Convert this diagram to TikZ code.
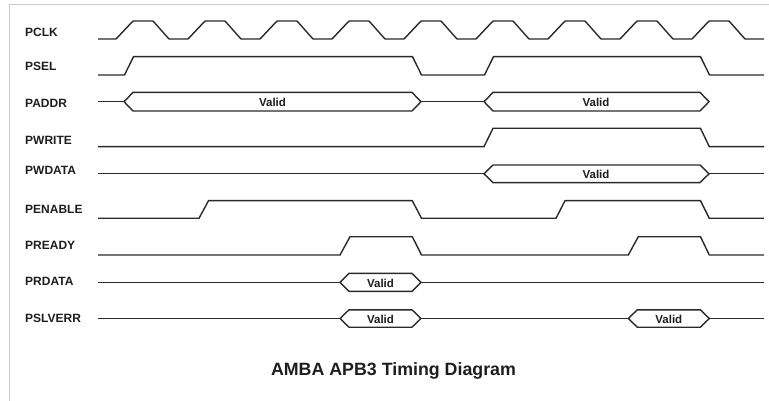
\documentclass[tikz,border=0pt]{standalone}
\usepackage{fontspec}
\setmainfont{Liberation Sans}
\definecolor{wave}{HTML}{2A2A2A}
\definecolor{frame}{HTML}{CCCCCC}
\definecolor{txt}{HTML}{1E1E1E}
\newcommand\mybus[4]{% x1, x2, ymid, half height
  (#1,#3) -- ({#1+9},{#3-#4}) -- ({#2-9},{#3-#4}) -- (#2,#3) -- ({#2-9},{#3+#4}) -- ({#1+9},{#3+#4}) -- cycle}
\begin{document}
\begin{tikzpicture}[x=1pt,y=-1pt,
  wv/.style={draw=wave,line width=1.4pt,line join=miter},
  sig/.style={anchor=west,inner sep=0pt,text height=8.6pt,text depth=0pt,font=\fontsize{12}{14}\selectfont\bfseries,text=txt},
  val/.style={inner sep=0pt,font=\fontsize{11.5}{13}\selectfont\bfseries,text=txt},
  ttl/.style={inner sep=0pt,font=\fontsize{17.8}{20}\selectfont\bfseries,text=txt}]
\useasboundingbox (0,0) rectangle (769,401);
\fill[white] (0,0) rectangle (769,401);
\draw[frame,line width=1pt] (9,401) -- (9,5) -- (769,5);

% labels
\node[sig] (lclk) at (25,32) {PCLK};
\node[sig] (lsel) at (25,66.7) {PSEL};
\node[sig] (laddr) at (25,103) {PADDR};
\node[sig] (lwrite) at (25,140.7) {PWRITE};
\node[sig] (lwdata) at (25,170.7) {PWDATA};
\node[sig] (lenable) at (25,209.3) {PENABLE};
\node[sig] (lready) at (25,245) {PREADY};
\node[sig] (lrdata) at (25,280.7) {PRDATA};
\node[sig] (lslverr) at (25,318.3) {PSLVERR};

% PCLK
\draw[wv] (98,39) foreach \k in {0,...,8} {
  -- ({116+72*\k},39) -- ({133+72*\k},21) -- ({153+72*\k},21) -- ({169+72*\k},39) } -- (764,39);

% PSEL
\draw[wv] (98,75) -- (124.5,75) -- (133.5,56.7) -- (412.5,56.7) -- (421.5,75)
  -- (484.5,75) -- (493.5,56.7) -- (700.5,56.7) -- (709.5,75) -- (764,75);

% PADDR
\draw[wv] (98,101.7) -- (124,101.7);
\draw[wv] \mybus{124}{421}{101.7}{9.3};
\draw[wv] (421,101.7) -- (484,101.7);
\draw[wv] \mybus{484}{709}{101.7}{9.3};
\node[val] (va1) at (272.5,102) {Valid};
\node[val] (va2) at (596,102) {Valid};

% PWRITE
\draw[wv] (98,146.7) -- (484,146.7) -- (493,128.3) -- (700.5,128.3) -- (709.3,146.7) -- (764,146.7);

% PWDATA
\draw[wv] (98,173.8) -- (484,173.8);
\draw[wv] \mybus{484}{709}{173.8}{8.8};
\draw[wv] (709,173.8) -- (764,173.8);
\node[val] (vw) at (596,174) {Valid};

% PENABLE
\draw[wv] (98,218.3) -- (199,218.3) -- (208.5,200.7) -- (412.3,200.7) -- (421.5,218.3)
  -- (556,218.3) -- (565,200.7) -- (700.5,200.7) -- (709.3,218.3) -- (764,218.3);

% PREADY
\draw[wv] (98,255) -- (340,255) -- (350,236.7) -- (412.3,236.7) -- (421.5,255)
  -- (628.3,255) -- (638.3,236.7) -- (700.5,236.7) -- (709.3,255) -- (764,255);

% PRDATA
\draw[wv] (98,282.3) -- (340,282.3);
\draw[wv] \mybus{340}{421}{282.3}{9};
\draw[wv] (421,282.3) -- (764,282.3);
\node[val] (vr) at (380.5,283) {Valid};

% PSLVERR
\draw[wv] (98,318.5) -- (340,318.5);
\draw[wv] \mybus{340}{421}{318.5}{8.7};
\draw[wv] (421,318.5) -- (628.3,318.5);
\draw[wv] \mybus{628.3}{709.3}{318.5}{8.7};
\draw[wv] (709.3,318.5) -- (764,318.5);
\node[val] (ve1) at (380.5,319.3) {Valid};
\node[val] (ve2) at (668.8,319.3) {Valid};

% title
\node[ttl] (title) at (393.5,371) {AMBA APB3 Timing Diagram};
\end{tikzpicture}
\end{document}
